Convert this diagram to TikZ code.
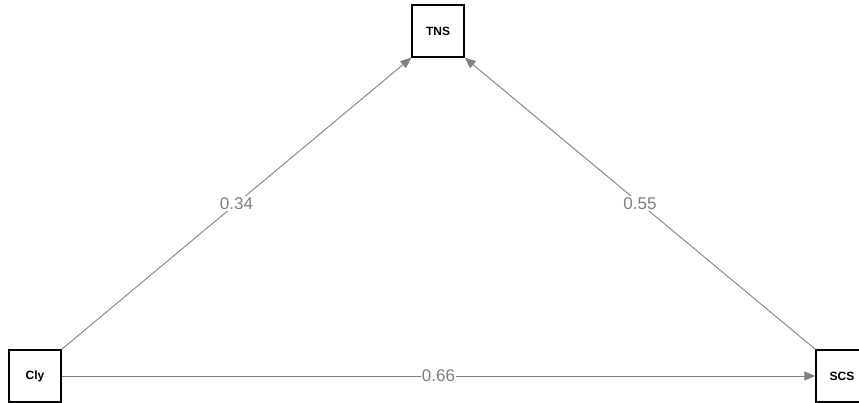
\documentclass[tikz,border=0pt]{standalone}
\usepackage{fontspec}
\setmainfont{Liberation Sans}
\usetikzlibrary{arrows.meta}
\definecolor{pathgray}{HTML}{808080}
\tikzstyle{manifest} = [rectangle, minimum width=52pt, minimum height=52pt, inner sep=0pt, text centered, draw=black, line width=1.3pt, fill=white, font=\fontsize{12}{14}\selectfont\bfseries]
\tikzstyle{path} = [pathgray, line width=0.9pt, -{Triangle[length=11pt,width=9pt]}]
\tikzstyle{coef} = [fill=white, text=pathgray, inner sep=1pt, font=\fontsize{17}{19}\selectfont]

\begin{document}
\begin{tikzpicture}[x=1pt, y=1pt]
\useasboundingbox (0,0) rectangle (859,403);
\node (cly) [manifest] at (35,27) {Cly};
\node (tns) [manifest] at (438,372) {TNS};
\node (scs) [manifest] at (842,27) {SCS};
\draw [path] (cly.north east) -- node [coef] {0.34} (tns.south west);
\draw [path] (scs.north west) -- node [coef] {0.55} (tns.south east);
\draw [path] (cly.east) -- node [coef] {0.66} (scs.west);
\end{tikzpicture}
\end{document}
